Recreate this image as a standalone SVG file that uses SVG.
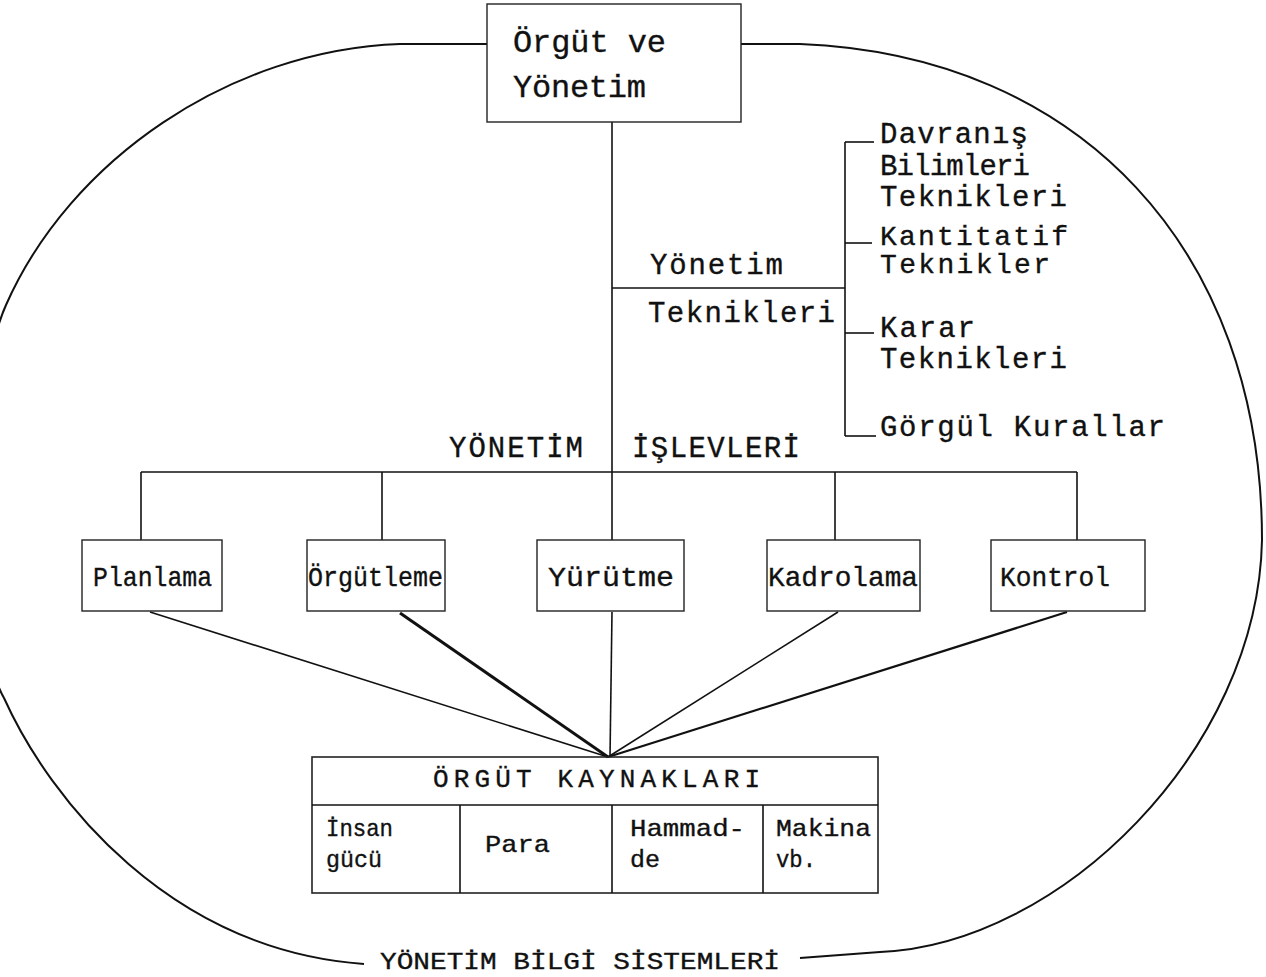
<svg xmlns="http://www.w3.org/2000/svg" width="1266" height="977" viewBox="0 0 1266 977">
<style>
.ln{stroke:#111;stroke-width:1.6;fill:none}
.box{stroke:#222;stroke-width:1.4;fill:none}
.arc{stroke:#111;stroke-width:2;fill:none}
.tw{font-family:"Liberation Mono","DejaVu Sans Mono",monospace;fill:#111;stroke:#111;stroke-width:0.35}
.t32{font-size:32px}
.t29{font-size:29px}
.t28{font-size:28px}
.t26{font-size:26px}
.t24{font-size:24px}
</style>
<rect width="1266" height="977" fill="#fff"/>
<g id="connectors">
<path class="arc" d="M487,44 L400,44 C230,50 70,160 6,305 C-34,395 -31,638 4,698 C50,800 170,950 364,964"/>
<path class="arc" d="M741,44 L800,44 C1080,55 1262,250 1262,540 C1258,750 1060,945 880,952 L800,958"/>
<line class="ln" x1="612" y1="122" x2="612" y2="540"/>
<line class="ln" x1="612" y1="288" x2="845" y2="288"/>
<line class="ln" x1="845" y1="142" x2="845" y2="436"/>
<line class="ln" x1="845" y1="142" x2="874" y2="142"/>
<line class="ln" x1="845" y1="243" x2="872" y2="243"/>
<line class="ln" x1="845" y1="333" x2="874" y2="333"/>
<line class="ln" x1="845" y1="436" x2="876" y2="436"/>
<line class="ln" x1="141" y1="472" x2="1077" y2="472"/>
<line class="ln" x1="141" y1="472" x2="141" y2="540"/>
<line class="ln" x1="382" y1="472" x2="382" y2="540"/>
<line class="ln" x1="835" y1="472" x2="835" y2="540"/>
<line class="ln" x1="1077" y1="472" x2="1077" y2="540"/>
<line class="ln" x1="150" y1="612" x2="608" y2="757"/>
<line class="ln" x1="400" y1="613" x2="608" y2="757" style="stroke-width:3"/>
<line class="ln" x1="612" y1="612" x2="610" y2="757"/>
<line class="ln" x1="838" y1="612" x2="608" y2="757"/>
<line class="ln" x1="1067" y1="612" x2="608" y2="757" style="stroke-width:2.2"/>
</g>
<g id="orgut-yonetim">
<rect class="box" x="487" y="4" width="254" height="118"/>
<text class="tw t32" x="513" y="52" textLength="153">Örgüt ve</text>
<text class="tw t32" x="513" y="97" textLength="133">Yönetim</text>
</g>
<g id="yonetim-teknikleri">
<text class="tw t29" x="650" y="274" textLength="133">Yönetim</text>
<text class="tw t29" x="648" y="322" textLength="187">Teknikleri</text>
</g>
<g id="davranis">
<text class="tw t29" x="880" y="143" textLength="148">Davranış</text>
<text class="tw t29" x="880" y="175" textLength="150">Bilimleri</text>
<text class="tw t29" x="880" y="206" textLength="187">Teknikleri</text>
</g>
<g id="kantitatif">
<text class="tw t28" x="880" y="245" textLength="188">Kantitatif</text>
<text class="tw t28" x="880" y="273" textLength="170">Teknikler</text>
</g>
<g id="karar">
<text class="tw t29" x="880" y="337" textLength="95">Karar</text>
<text class="tw t29" x="880" y="368" textLength="187">Teknikleri</text>
</g>
<g id="gorgul">
<text class="tw t29" x="880" y="436" textLength="285">Görgül Kurallar</text>
</g>
<g id="yonetim-islevleri">
<text class="tw t29" x="449" y="457" textLength="134">YÖNETİM</text>
<text class="tw t29" x="632" y="457" textLength="168">İŞLEVLERİ</text>
</g>
<g id="planlama">
<rect class="box" x="82" y="540" width="140" height="71"/>
<text class="tw t28" x="93" y="586" textLength="119" lengthAdjust="spacingAndGlyphs">Planlama</text>
</g>
<g id="orgutleme">
<rect class="box" x="307" y="540" width="138" height="71"/>
<text class="tw t28" x="308" y="586" textLength="135" lengthAdjust="spacingAndGlyphs">Örgütleme</text>
</g>
<g id="yurutme">
<rect class="box" x="537" y="540" width="147" height="71"/>
<text class="tw t28" x="548" y="586" textLength="126" lengthAdjust="spacingAndGlyphs">Yürütme</text>
</g>
<g id="kadrolama">
<rect class="box" x="767" y="540" width="153" height="71"/>
<text class="tw t28" x="768" y="586" textLength="150" lengthAdjust="spacingAndGlyphs">Kadrolama</text>
</g>
<g id="kontrol">
<rect class="box" x="991" y="540" width="154" height="71"/>
<text class="tw t28" x="1000" y="586" textLength="110" lengthAdjust="spacingAndGlyphs">Kontrol</text>
</g>
<g id="orgut-kaynaklari">
<rect class="box" x="312" y="757" width="566" height="136" style="stroke-width:1.6"/>
<line class="ln" x1="312" y1="805" x2="878" y2="805"/>
<line class="ln" x1="460" y1="805" x2="460" y2="893"/>
<line class="ln" x1="612" y1="805" x2="612" y2="893"/>
<line class="ln" x1="763" y1="805" x2="763" y2="893"/>
<text class="tw t26" x="433" y="787" textLength="327">ÖRGÜT KAYNAKLARI</text>
<text class="tw t24" x="326" y="836" textLength="67" lengthAdjust="spacingAndGlyphs">İnsan</text>
<text class="tw t24" x="326" y="867" textLength="56" lengthAdjust="spacingAndGlyphs">gücü</text>
<text class="tw t24" x="485" y="852" textLength="65" lengthAdjust="spacingAndGlyphs">Para</text>
<text class="tw t24" x="630" y="836" textLength="115" lengthAdjust="spacingAndGlyphs">Hammad-</text>
<text class="tw t24" x="630" y="867" textLength="30" lengthAdjust="spacingAndGlyphs">de</text>
<text class="tw t24" x="776" y="836" textLength="95" lengthAdjust="spacingAndGlyphs">Makina</text>
<text class="tw t24" x="776" y="867" textLength="40" lengthAdjust="spacingAndGlyphs">vb.</text>
</g>
<g id="yonetim-bilgi-sistemleri">
<text class="tw t24" x="380" y="969" textLength="400" lengthAdjust="spacingAndGlyphs">YÖNETİM BİLGİ SİSTEMLERİ</text>
</g>
</svg>
